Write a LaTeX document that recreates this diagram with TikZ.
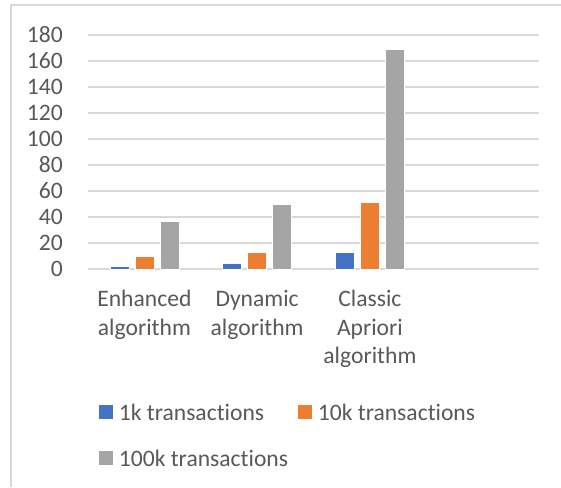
\documentclass[tikz,border=0pt]{standalone}
\usepackage{fontspec}
\setmainfont[Ligatures=NoCommon]{Carlito}
\usetikzlibrary{positioning}
\definecolor{barblue}{HTML}{4472C4}
\definecolor{barorange}{HTML}{ED7D31}
\definecolor{bargray}{HTML}{A5A5A5}
\definecolor{gridgray}{HTML}{D9D9D9}
\definecolor{labelgray}{HTML}{595959}
\tikzset{
    frame line/.style={draw=gridgray, line width=1.2pt},
    grid line/.style={draw=gridgray, line width=0.9pt},
    tick label/.style={anchor=east, inner sep=0pt, text=labelgray},
    cat label/.style={anchor=north, align=center, inner sep=0pt, text=labelgray},
    bar/.style={fill=#1, draw=white, line width=0.6pt},
    legend key/.style={fill=#1, inner sep=0pt, minimum size=10.5pt},
    legend text/.style={right=4pt of #1, inner sep=0pt, text=labelgray},
}
\tikzstyle{every node}=[font=\fontsize{17.7}{21.5}\selectfont]

\begin{document}
\begin{tikzpicture}[x=0.75pt,y=-0.75pt]
    \useasboundingbox (0,0) rectangle (561,487);
    \fill[white] (0,0) rectangle (561,487);
    % chart frame, cut by the page on the right and at the bottom
    \draw[frame line] (11,487) -- (11,5) -- (561,5);

    % value axis: grid lines and labels
    \foreach \v in {0,20,...,180} {
        \draw[grid line] (88,269-1.3*\v) -- (539,269-1.3*\v);
        \node[tick label] (tick\v) at (63,269-1.3*\v) {\v};
    };

    % bars: group centre, then 1k, 10k and 100k values
    \foreach \c/\a/\b/\g [count=\i] in {144.4/2/9.5/37, 257.1/4.5/12.5/49.5, 369.9/12.5/51.5/169} {
        \draw[bar=barblue] (\c-34.5,269) rectangle (\c-15.5,269-1.3*\a);
        \draw[bar=barorange] (\c-9.5,269) rectangle (\c+9.5,269-1.3*\b);
        \draw[bar=bargray] (\c+15.5,269) rectangle (\c+34.5,269-1.3*\g);
    };

    % category labels
    \node[cat label] (enhanced) at (144.4,290) {Enhanced\\algorithm};
    \node[cat label] (dynamic) at (257.1,290) {Dynamic\\algorithm};
    \node[cat label] (classic) at (369.9,290) {Classic\\Apriori\\algorithm};

    % legend
    \node[legend key=barblue] (key1k) at (106,412) {};
    \node[legend text=key1k] (text1k) {1k transactions};
    \node[legend key=barorange] (key10k) at (305,412) {};
    \node[legend text=key10k] (text10k) {10k transactions};
    \node[legend key=bargray] (key100k) at (106,458) {};
    \node[legend text=key100k] (text100k) {100k transactions};
\end{tikzpicture}
\end{document}
